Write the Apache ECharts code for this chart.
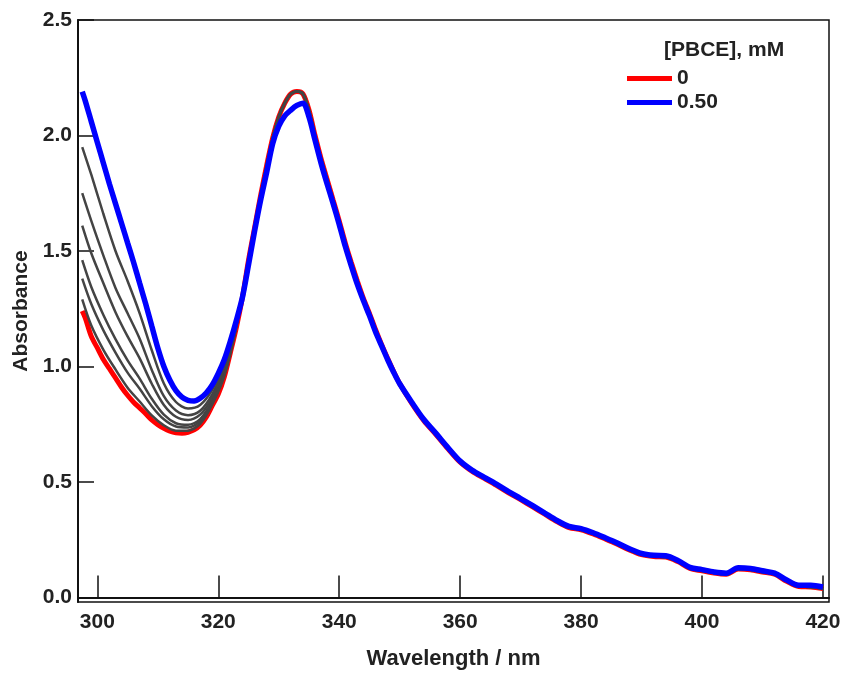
<!DOCTYPE html>
<html>
<head>
<meta charset="utf-8">
<script src="https://cdn.jsdelivr.net/npm/echarts@6/dist/echarts.min.js"></script>
<style>html,body{margin:0;padding:0;background:#fff}#c{width:847px;height:675px}</style>
</head>
<body>
<div id="c"></div>
<script>
// Wavelengths (nm) for the low-wavelength part where the curves separate
const wlHead = [297.5, 298, 299, 300, 301, 302, 303, 304, 305, 306, 307, 308, 309, 310, 311, 312, 313, 314, 315, 316, 317, 318, 319, 320, 321, 322, 323, 324];
const redHead = [1.24, 1.21, 1.13, 1.08, 1.03, 0.99, 0.95, 0.91, 0.875, 0.845, 0.82, 0.795, 0.768, 0.748, 0.732, 0.72, 0.713, 0.711, 0.715, 0.725, 0.745, 0.78, 0.83, 0.88, 0.955, 1.06, 1.17, 1.30];
const blueHead = [2.19, 2.15, 2.06, 1.97, 1.88, 1.79, 1.705, 1.62, 1.535, 1.45, 1.36, 1.27, 1.175, 1.08, 1.0, 0.94, 0.895, 0.867, 0.853, 0.85, 0.862, 0.885, 0.92, 0.97, 1.03, 1.11, 1.20, 1.30];

// Intermediate concentrations (grey curves)
const grayWl = [297.5, 299, 301, 303, 305, 307, 309, 311, 313, 315, 317, 319, 321, 323];
const gray1 = [1.95, 1.83, 1.66, 1.50, 1.37, 1.23, 1.07, 0.926, 0.846, 0.818, 0.833, 0.898, 1.011, 1.19];
const gray2 = [1.75, 1.63, 1.48, 1.34, 1.23, 1.12, 0.985, 0.871, 0.809, 0.789, 0.808, 0.879, 0.995, 1.186];
const gray3 = [1.61, 1.49, 1.36, 1.235, 1.13, 1.035, 0.925, 0.833, 0.782, 0.768, 0.791, 0.865, 0.984, 1.182];
const gray4 = [1.46, 1.344, 1.223, 1.118, 1.026, 0.947, 0.86, 0.791, 0.754, 0.747, 0.772, 0.851, 0.972, 1.177];
const gray5 = [1.38, 1.27, 1.156, 1.06, 0.973, 0.903, 0.828, 0.771, 0.74, 0.736, 0.763, 0.844, 0.966, 1.175];
const gray6 = [1.29, 1.177, 1.072, 0.987, 0.908, 0.848, 0.788, 0.745, 0.722, 0.722, 0.751, 0.835, 0.959, 1.172];

// Common wavelength grid for the peak and tail
const wlTail = [325, 326, 327, 328, 329, 330, 331, 332, 333, 334, 335, 336, 337, 338, 339, 340, 341, 342, 343, 344, 345, 346, 347, 348, 349, 350,
  352, 354, 356, 358, 360, 362, 364, 366, 368, 370, 372, 374, 376, 378, 380, 382, 384, 386, 388, 390, 392, 394, 396, 398, 400, 402, 404, 406, 408, 410, 412, 414, 416, 418, 420];
const redTail = [1.46, 1.60, 1.74, 1.87, 1.99, 2.08, 2.14, 2.18, 2.19, 2.18, 2.11, 2.00, 1.90, 1.81, 1.72, 1.63, 1.535, 1.45, 1.37, 1.295, 1.23, 1.16, 1.095, 1.035, 0.978, 0.926,
  0.84, 0.765, 0.705, 0.643, 0.585, 0.545, 0.515, 0.485, 0.453, 0.423, 0.392, 0.36, 0.328, 0.302, 0.293, 0.275, 0.253, 0.23, 0.205, 0.185, 0.177, 0.175, 0.155, 0.125, 0.115, 0.105, 0.10, 0.123, 0.12, 0.11, 0.10, 0.07, 0.047, 0.045, 0.038];
const blueTail = [1.44, 1.585, 1.72, 1.84, 1.965, 2.04, 2.085, 2.11, 2.13, 2.14, 2.08, 1.98, 1.88, 1.79, 1.705, 1.615, 1.52, 1.435, 1.355, 1.285, 1.22, 1.15, 1.09, 1.03, 0.975, 0.925,
  0.845, 0.77, 0.71, 0.648, 0.59, 0.55, 0.52, 0.49, 0.458, 0.428, 0.397, 0.365, 0.333, 0.307, 0.298, 0.28, 0.258, 0.235, 0.21, 0.19, 0.182, 0.18, 0.16, 0.13, 0.12, 0.11, 0.105, 0.128, 0.125, 0.115, 0.105, 0.075, 0.052, 0.052, 0.045];

const xTicks = [300, 320, 340, 360, 380, 400, 420];
const yTicks = [0, 0.5, 1.0, 1.5, 2.0, 2.5];
const legendTitle = '[PBCE], mM';
const seriesNames = ['0', '0.50'];

function zip(xs, ys) { return xs.map((x, i) => [x, ys[i]]); }

const grays = [gray1, gray2, gray3, gray4, gray5, gray6];
const FONT = 'Liberation Sans';

const series = [];
series.push({
  name: seriesNames[0], type: 'line', symbol: 'none', smooth: 0.3, z: 2,
  data: zip(wlHead, redHead).concat(zip(wlTail, redTail)),
  lineStyle: { color: '#ff0000', width: 5 }, itemStyle: { color: '#ff0000' }
});
grays.forEach((g, i) => {
  series.push({
    name: 'g' + i, type: 'line', symbol: 'none', smooth: 0.3, z: 3,
    data: zip(grayWl, g).concat(zip(wlTail, redTail)),
    lineStyle: { color: '#444444', width: 2.5 }, itemStyle: { color: '#444444' }
  });
});
series.push({
  name: seriesNames[1], type: 'line', symbol: 'none', smooth: 0.3, z: 4,
  data: zip(wlHead, blueHead).concat(zip(wlTail, blueTail)),
  lineStyle: { color: '#0000ff', width: 5.5 }, itemStyle: { color: '#0000ff' }
});

const chart = echarts.init(document.getElementById('c'), null, { renderer: 'canvas' });
chart.setOption({
  animation: false,
  backgroundColor: '#ffffff',
  grid: { left: 78, right: 18, top: 20, bottom: 72, show: true, borderColor: '#111', borderWidth: 1.5 },
  xAxis: {
    type: 'value', min: 296.8, max: 421,
    name: 'Wavelength / nm', nameLocation: 'middle', nameGap: 46,
    nameTextStyle: { fontFamily: FONT, fontWeight: 'bold', fontSize: 22, color: '#222' },
    axisLine: { show: true, lineStyle: { color: '#111', width: 2 } },
    axisTick: { show: true, inside: true, length: 22, customValues: xTicks, lineStyle: { color: '#111', width: 1.5 } },
    axisLabel: { customValues: xTicks, margin: 10, fontFamily: FONT, fontWeight: 'bold', fontSize: 21, color: '#222' },
    splitLine: { show: false }
  },
  yAxis: {
    type: 'value', min: -0.02, max: 2.5,
    name: 'Absorbance', nameLocation: 'middle', nameGap: 44, nameRotate: 90,
    nameTextStyle: { fontFamily: FONT, fontWeight: 'bold', fontSize: 21, color: '#222' },
    axisLine: { show: true, lineStyle: { color: '#111', width: 2 } },
    axisTick: { show: true, inside: true, length: 16, customValues: yTicks, lineStyle: { color: '#111', width: 1.5 } },
    axisLabel: { customValues: yTicks, margin: 6, fontFamily: FONT, fontWeight: 'bold', fontSize: 21, color: '#222',
      formatter: v => Number(v).toFixed(1) },
    splitLine: { show: false }
  },
  legend: {
    orient: 'vertical', left: 622, top: 63, itemWidth: 45, itemHeight: 5, itemGap: 3,
    data: [{ name: seriesNames[0], icon: 'rect' }, { name: seriesNames[1], icon: 'rect' }],
    textStyle: { fontFamily: FONT, fontWeight: 'bold', fontSize: 21, color: '#222' }
  },
  graphic: [{
    type: 'text', left: 664, top: 40,
    style: { text: legendTitle, font: 'bold 21px "Liberation Sans"', fill: '#222' }
  }],
  series: series
});
</script>
</body>
</html>
